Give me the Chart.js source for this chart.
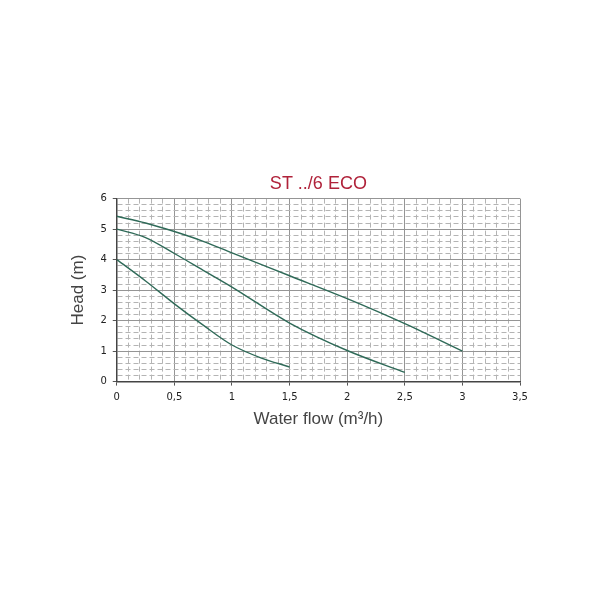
<!DOCTYPE html>
<html>
<head>
<meta charset="utf-8">
<script src="https://cdn.jsdelivr.net/npm/chart.js@4"></script>
<style>
  html, body { margin: 0; padding: 0; background: #fff; }
  #wrap { position: absolute; left: 0; top: 0; width: 600px; height: 600px; }
</style>
</head>
<body>
<div id="wrap"><canvas id="myChart"></canvas></div>
<script>
// pump curves
var flowHigh = [0, 0.25, 0.5, 0.75, 1, 1.5, 2, 2.5, 3];
var headHigh = [5.42, 5.2, 4.92, 4.6, 4.22, 3.47, 2.72, 1.9, 1.0];

var flowMid = [0, 0.25, 0.5, 0.75, 1, 1.5, 2, 2.5];
var headMid = [5.0, 4.72, 4.2, 3.65, 3.1, 1.92, 1.02, 0.3];

var flowLow = [0, 0.25, 0.5, 0.75, 1, 1.25, 1.5];
var headLow = [4.0, 3.3, 2.55, 1.85, 1.2, 0.78, 0.48];

var xMax = 3.5;
var yMax = 6;

function pts(xs, ys) {
    return xs.map(function (x, i) { return { x: x, y: ys[i] }; });
}

function isStep(v, step) {
    var r = v / step;
    return Math.abs(r - Math.round(r)) < 1e-6;
}

var lineColor = '#2f6a58';
var ctx = document.getElementById('myChart').getContext('2d');

var curveStyle = {
    borderColor: lineColor,
    borderWidth: 1.4,
    pointRadius: 0,
    fill: false,
    cubicInterpolationMode: 'monotone'
};

var myChart = new Chart(ctx, {
    type: 'line',
    data: {
        datasets: [
            Object.assign({ label: 'high', data: pts(flowHigh, headHigh) }, curveStyle),
            Object.assign({ label: 'mid', data: pts(flowMid, headMid) }, curveStyle),
            Object.assign({ label: 'low', data: pts(flowLow, headLow) }, curveStyle)
        ]
    },
    options: {
        responsive: true,
        maintainAspectRatio: false,
        animation: false,
        layout: { padding: { left: 68, right: 80, top: 173, bottom: 170 } },
        plugins: {
            legend: { display: false },
            tooltip: { enabled: false },
            title: {
                display: true,
                fullSize: false,
                text: 'ST ../6 ECO',
                color: '#b0223a',
                font: { family: 'Liberation Sans', size: 18, weight: 'normal' },
                padding: { top: 0, bottom: 4 }
            }
        },
        scales: {
            x: {
                type: 'linear',
                min: 0,
                max: xMax,
                ticks: {
                    stepSize: 0.1,
                    autoSkip: false,
                    maxRotation: 0,
                    color: '#222',
                    font: { family: 'DejaVu Sans', size: 10 },
                    padding: 6,
                    callback: function (v) {
                        return isStep(v, 0.5) ? String(Math.round(v * 10) / 10).replace('.', ',') : '';
                    }
                },
                grid: {
                    color: function (c) { return isStep(c.tick.value, 0.5) ? '#959595' : '#b4b4b4'; },
                    lineWidth: 1,
                    tickLength: 4,
                    tickColor: function (c) { return isStep(c.tick.value, 0.5) ? '#555' : 'rgba(0,0,0,0)'; }
                },
                border: {
                    color: '#444',
                    width: 1.5,
                    dash: function (c) { return (c.tick && !isStep(c.tick.value, 0.5)) ? [5, 3] : []; }
                },
                title: {
                    display: true,
                    text: 'Water flow (m\u00b3/h)',
                    color: '#444',
                    font: { family: 'Liberation Sans', size: 17 },
                    padding: { top: 0, bottom: 0 }
                }
            },
            y: {
                type: 'linear',
                min: 0,
                max: yMax,
                ticks: {
                    stepSize: 0.2,
                    autoSkip: false,
                    color: '#222',
                    font: { family: 'DejaVu Sans', size: 10 },
                    padding: 6,
                    callback: function (v) {
                        return isStep(v, 1) ? String(Math.round(v)) : '';
                    }
                },
                grid: {
                    color: function (c) { return isStep(c.tick.value, 1) ? '#959595' : '#b4b4b4'; },
                    lineWidth: 1,
                    tickLength: 4,
                    tickColor: function (c) { return isStep(c.tick.value, 1) ? '#555' : 'rgba(0,0,0,0)'; }
                },
                border: {
                    color: '#444',
                    width: 1.5,
                    dash: function (c) { return (c.tick && !isStep(c.tick.value, 1)) ? [5, 3] : []; }
                },
                title: {
                    display: true,
                    text: 'Head (m)',
                    color: '#444',
                    font: { family: 'Liberation Sans', size: 17 },
                    padding: { top: 0, bottom: 6 }
                }
            }
        }
    }
});
</script>
</body>
</html>
